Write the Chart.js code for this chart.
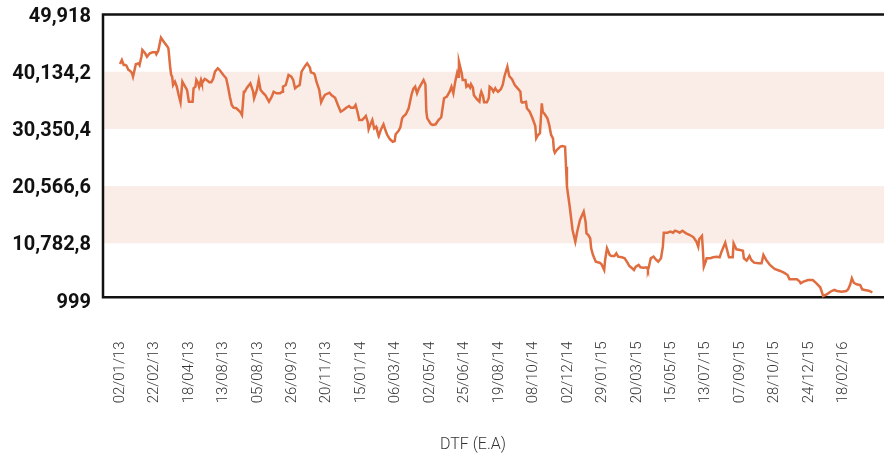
<!DOCTYPE html>
<html><head><meta charset="utf-8">
<script src="https://cdn.jsdelivr.net/npm/chart.js@4/dist/chart.umd.min.js"></script>
<style>html,body{margin:0;padding:0;background:#fff}</style>
</head><body>
<canvas id="c" width="884" height="454"></canvas>
<script>
// x-axis tick labels (one every 37 sessions)
const tickLabels = ['02/01/13','22/02/13','18/04/13','13/08/13','05/08/13','26/09/13','20/11/13','15/01/14','06/03/14','02/05/14','25/06/14','19/08/14','08/10/14','02/12/14','29/01/15','20/03/15','15/05/15','13/07/15','07/09/15','28/10/15','24/12/15','18/02/16'];
const sessionsPerTick = 37;

// observation (session) index of each point
const sessions = [
0,2,4,6,7,9,11,13,14,17,
20,21,23,24,27,29,32,35,38,39,
41,42,44,47,51,52,53,54,55,56,
57,59,61,63,65,67,71,72,74,78,
79,81,82,84,85,87,88,91,93,96,
98,100,102,105,107,111,114,116,118,120,
122,125,129,131,133,134,136,140,143,144,
147,149,151,154,156,160,163,165,168,172,
174,175,178,181,184,186,188,190,193,195,
199,201,204,205,208,209,211,214,216,218,
220,225,227,231,234,237,240,243,246,248,
251,253,255,257,260,261,264,266,267,269,
271,273,275,276,278,280,283,285,287,290,
293,295,296,299,301,303,304,307,310,313,
315,317,319,321,324,326,328,329,330,334,
336,339,342,345,348,351,354,356,358,360,
362,363,364,367,368,371,372,374,376,377,
379,380,383,386,387,388,390,391,394,396,
397,399,401,403,404,406,409,411,413,416,
418,421,424,428,430,431,432,436,437,440,
443,446,447,449,451,453,454,456,459,461,
463,465,466,467,469,473,475,478,479,480,
483,486,489,491,494,498,500,501,503,505,
506,508,511,515,517,520,521,523,526,528,
531,533,535,539,542,545,547,550,552,554,
557,559,562,566,567,568,570,573,576,578,
581,583,584,588,591,594,596,599,601,604,
608,612,616,619,621,622,625,626,627,629,
630,634,637,641,644,646,650,652,654,658,
659,662,666,669,670,673,676,678,681,686,
689,691,694,698,703,709,713,717,719,723,
727,730,731,734,739,744,748,752,754,755,
759,763,767,770,775,780,782,784,786,788,
791,795,797,800,804,808];

// DTF (E.A) values
const dtf = [
41450,42140,41280,41280,41160,40430,40260,39860,39280,41400,
41570,41280,42700,43850,43280,42700,43280,43450,43450,43110,
43680,44410,45950,45270,44410,44140,42430,40720,39570,39280,
37860,38430,37570,36150,34900,38430,37300,37010,35000,35000,
37300,37570,38720,38150,37570,38720,38150,38890,38720,38320,
38320,38890,40140,40720,40430,39570,39010,37570,35860,34440,
33980,33880,33290,32730,36710,36710,37300,38150,36710,35590,
37010,38720,37010,36440,36150,35000,35860,36710,36440,36440,
36710,37570,37860,39570,39280,38720,37300,37570,37860,40140,
41160,41570,40820,40030,39860,39690,38430,37010,34900,35590,
36150,36540,36150,35690,34440,33290,33590,33980,34270,33980,
33980,34440,33290,31870,31870,32040,32560,31580,30280,31140,
31870,30450,30730,30160,29190,30160,31140,30160,29310,28570,
28160,28280,29430,29990,30560,32160,32440,32850,33880,36150,
37180,37570,36440,37300,38150,38720,37980,33290,32160,31140,
31020,31140,31870,32340,35590,35860,36710,37570,36440,38430,
39860,39280,41850,39860,38720,38720,37570,37860,37400,37980,
37400,36150,35470,35000,36150,36710,35860,34900,34900,35590,
37570,37300,36710,37300,37010,36710,37120,37860,39400,40990,
39400,38840,37860,37120,36710,35000,34830,35000,33880,33290,
32160,30850,28740,29310,29600,34730,33290,32900,32160,31020,
29310,28740,26740,26280,26740,27310,27430,27310,23890,20470,
17040,13060,11060,12770,14770,16190,14480,12490,12200,11640,
9930,8780,7640,7470,7240,6220,7930,9930,8780,8610,
8610,9070,8490,8390,8220,7470,6900,6510,6220,6780,
7070,6680,6610,6680,6220,6780,8220,8490,7930,7640,
8220,10200,12600,12600,12770,12600,12940,12770,12600,12940,
12490,12200,11810,11060,10200,11470,12030,9640,6780,7640,
8220,8220,8390,8490,8390,9350,10890,9640,8390,8390,
10780,9760,9640,9520,8220,7810,8610,7930,7470,7360,
7360,8780,7930,7070,6390,6050,5750,5360,4630,4630,
4630,4220,3940,4220,4510,4510,3940,3260,2330,1770,
2060,2500,2800,2620,2500,2620,2910,3650,4800,4040,
3770,3650,2910,2800,2680,2400];

const yTickValues = [999, 10782.8, 20566.6, 30350.4, 40134.2, 49918];
const yTickLabels = ['999', '10,782,8', '20,566,6', '30,350,4', '40,134,2', '49,918'];
const xTitle = 'DTF (E.A)';

const bandsPlugin = {
  id: 'bands',
  beforeDatasetsDraw(chart) {
    const {ctx, chartArea: a, scales: {y}} = chart;
    ctx.save();
    ctx.fillStyle = '#faede8';
    for (let i = 1; i < yTickValues.length - 1; i += 2) {
      const t = y.getPixelForValue(yTickValues[i + 1]);
      const b = y.getPixelForValue(yTickValues[i]);
      ctx.fillRect(a.left, t, a.right - a.left, b - t);
    }
    // frame
    ctx.strokeStyle = '#111';
    ctx.lineWidth = 2.5;
    ctx.beginPath();
    ctx.moveTo(a.right, a.top);
    ctx.lineTo(a.left + 1, a.top);
    ctx.lineTo(a.left + 1, a.bottom - 3.3);
    ctx.lineTo(a.right, a.bottom - 3.3);
    ctx.stroke();
    ctx.restore();
  },
  afterDraw(chart) {
    const ctx = chart.ctx;
    ctx.save();
    ctx.font = '300 16px Roboto';
    ctx.fillStyle = '#333';
    ctx.textAlign = 'center';
    ctx.textBaseline = 'middle';
    ctx.fillText(xTitle, 473, 445);
    ctx.restore();
  }
};

new Chart(document.getElementById('c'), {
  type: 'line',
  data: {
    datasets: [{
      data: sessions.map((s, i) => ({x: s, y: dtf[i]})),
      borderColor: '#df6d3f',
      borderWidth: 2.5,
      pointRadius: 0,
      tension: 0,
      fill: false
    }]
  },
  options: {
    responsive: false,
    animation: false,
    devicePixelRatio: 1,
    layout: {padding: {top: 14.5, left: 0, right: 0, bottom: 0}},
    plugins: {legend: {display: false}, tooltip: {enabled: false}},
    scales: {
      x: {
        type: 'linear',
        min: -19.33,
        max: 820.5,
        afterBuildTicks: ax => { ax.ticks = tickLabels.map((_, i) => ({value: i * sessionsPerTick})); },
        afterFit: s => { s.height = 153.5; s.paddingLeft = 0; s.paddingRight = 0; },
        grid: {display: false, drawTicks: false},
        border: {display: false},
        ticks: {
          autoSkip: false, minRotation: 90, maxRotation: 90, padding: 41,
          font: {family: 'Roboto', weight: 300, size: 15},
          color: '#333',
          callback: v => tickLabels[Math.round(v / sessionsPerTick)]
        }
      },
      y: {
        type: 'linear',
        min: 999,
        max: 49918,
        afterBuildTicks: ax => { ax.ticks = yTickValues.map(v => ({value: v})); },
        afterFit: s => { s.width = 102; s.paddingTop = 0; s.paddingBottom = 0; },
        grid: {display: false, drawTicks: false},
        border: {display: false},
        ticks: {
          padding: 11,
          labelOffset: 2,
          font: {family: 'Roboto', weight: 'bold', size: 20},
          color: '#111',
          callback: v => yTickLabels[yTickValues.indexOf(v)]
        }
      }
    }
  },
  plugins: [bandsPlugin]
});
</script>
</body></html>
